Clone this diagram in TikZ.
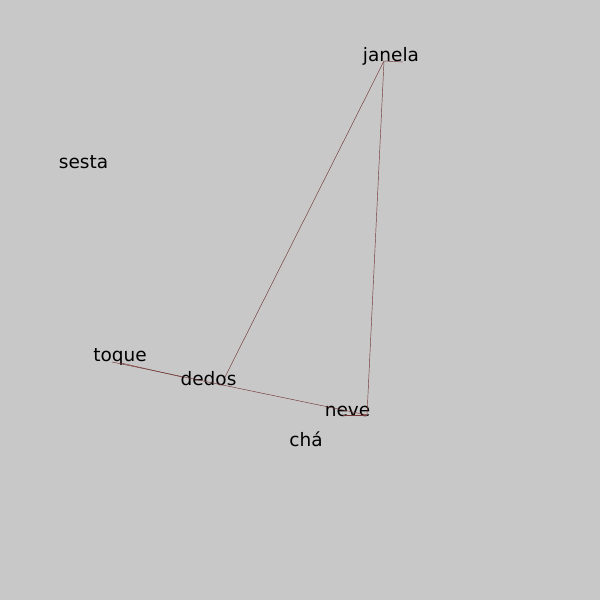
\documentclass[tikz,border=0pt]{standalone}
\usepackage{fontspec}
\setmainfont{DejaVu Sans}
\definecolor{bg}{RGB}{200,200,200}
\definecolor{edge}{RGB}{115,55,55}
\begin{document}
\begin{tikzpicture}[x=1pt,y=-1pt,
  lbl/.style={anchor=base,inner sep=0pt,font=\fontsize{18.5}{21}\selectfont,text=black},
  conn/.style={draw=edge,line width=0.45pt}]
\fill[bg] (0,0) rectangle (600,600);
\useasboundingbox (0,0) rectangle (600,600);
\node[lbl] (janela) at (391,61) {janela};
\node[lbl] (sesta) at (83.5,168) {sesta};
\node[lbl] (toque) at (120,361) {toque};
\node[lbl] (dedos) at (208.5,385) {dedos};
\node[lbl] (neve) at (347.5,416) {neve};
\node[lbl] (cha) at (306,446) {chá};
\coordinate (jA) at (384,61);
\coordinate (jB) at (403,62);
\coordinate (dA) at (225,377);
\coordinate (dB) at (182,377);
\coordinate (tA) at (112,362);
\coordinate (tB) at (121,363);
\coordinate (nA) at (367,415);
\coordinate (nB) at (343,415);
\draw[conn] (jA) -- (jB);
\draw[conn] (jA) -- (dA);
\draw[conn] (jA) -- (nA);
\draw[conn] (tA) -- (nA);
\draw[conn] (tB) -- (dB);
\draw[conn] (nB) -- (nA);
\end{tikzpicture}
\end{document}
